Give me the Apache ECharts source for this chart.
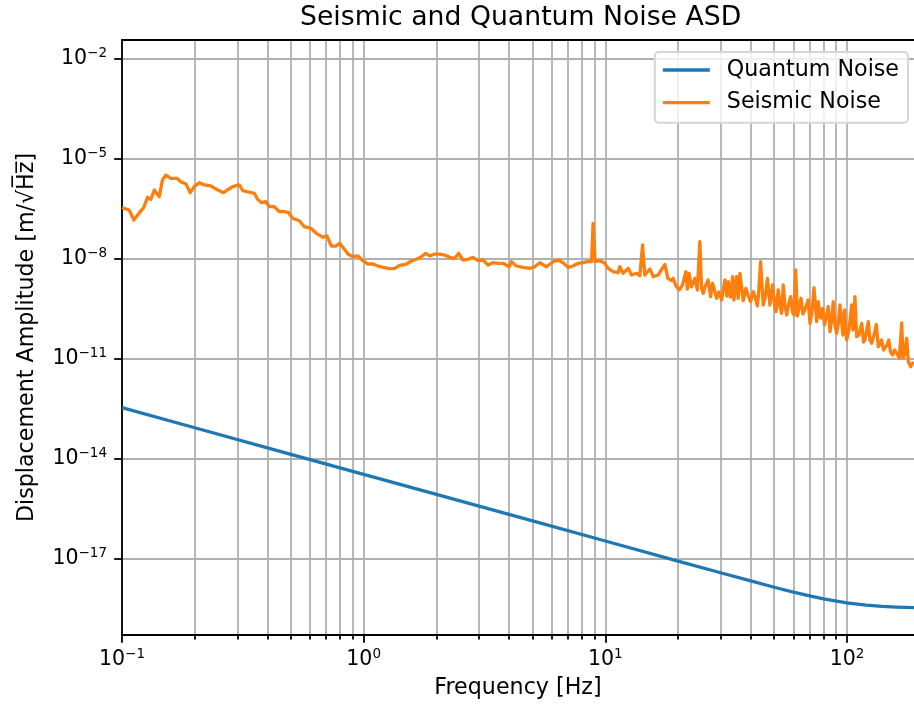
<!DOCTYPE html>
<html>
<head>
<meta charset="utf-8">
<title>Seismic and Quantum Noise ASD</title>
<script src="https://cdn.jsdelivr.net/npm/echarts@6/dist/echarts.min.js"></script>
<style>
    html, body { margin: 0; padding: 0; background: #fff; }
    #chart { width: 914px; height: 704px; }
</style>
</head>
<body>
<div id="chart"></div>
<script>
// frequency [Hz] and amplitude [m/sqrt(Hz)]
var quantumFreq = [0.1, 0.2, 0.5, 1, 2, 5, 10, 20, 30, 40, 50, 60, 70, 80, 100, 120, 140, 160, 189.4];
var quantumAmp = [3.4e-13, 8.5e-14, 1.35e-14, 3.4e-15, 8.5e-16, 1.36e-16, 3.4e-17, 8.5e-18, 3.79e-18, 2.15e-18,
    1.39e-18, 1.0e-18, 7.67e-19, 6.23e-19, 4.7e-19, 4.02e-19, 3.69e-19, 3.52e-19, 3.39e-19];

var seismicFreq = [
    0.1, 0.107, 0.112, 0.118, 0.123, 0.1275, 0.1316, 0.136, 0.1426, 0.147,
    0.152, 0.159, 0.169, 0.175, 0.184, 0.1915, 0.199, 0.209, 0.219, 0.233,
    0.249, 0.263, 0.273, 0.287, 0.306, 0.316, 0.331, 0.353, 0.364, 0.378,
    0.394, 0.407, 0.427, 0.448, 0.469, 0.488, 0.508, 0.542, 0.568, 0.605,
    0.637, 0.679, 0.705, 0.735, 0.766, 0.796, 0.826, 0.861, 0.903, 0.947,
    0.993, 1.042, 1.093, 1.146, 1.202, 1.281, 1.344, 1.409, 1.503, 1.576,
    1.653, 1.734, 1.806, 1.876, 1.968, 2.064, 2.165, 2.271, 2.381, 2.474,
    2.577, 2.703, 2.835, 2.973, 3.119, 3.271, 3.43, 3.598, 3.774, 3.997,
    4.089, 4.289, 4.566, 4.868, 5.106, 5.355, 5.707, 6.081, 6.377, 6.688,
    7.015, 7.357, 7.716, 8.093, 8.408, 8.768, 8.903, 9.075, 9.489, 9.952,
    10.27, 10.77, 11.3, 11.48, 11.85, 12.43, 12.84, 13.47,
    13.9, 14.26, 14.57, 15.29, 15.78, 16.54, 17.64, 18.15, 18.8, 19.09,
    19.59, 20.21, 20.87, 21.54, 21.85, 22.23, 22.7, 23.1, 23.48, 24.04,
    24.62, 25.02, 25.41, 25.95, 26.65, 27.27, 27.79, 28.28, 28.87, 29.51,
    30.28, 31.25, 31.85, 32.25, 32.93, 33.63, 34.05, 34.94, 35.47, 36.06,
    37.21, 38.18, 39.09, 39.93, 40.93, 41.8, 42.53, 43.01, 43.92, 45.03,
    45.98, 46.87, 47.98, 49.23, 50.08, 50.82, 51.95, 52.8, 53.66, 54.49,
    55.38, 56.29, 57.27, 58.48, 59.49, 60.35, 61.33, 62.39, 63.59, 64.51,
    65.75, 67.66, 69.16, 70.29, 71.64, 73.03, 74.93, 76.08, 77.7, 79.34,
    80.71, 82.27, 83.69, 85.06, 86.45, 87.78, 89.21, 90.67, 92.24, 93.55,
    96.26, 97.64, 99.72, 101.9, 104.6, 105.9, 107.9, 109.7, 112.1, 115.1,
    117.1, 118.7, 122.5, 124.5, 126.6, 129.4, 132.2, 134.8, 137.0, 139.2,
    141.6, 143.6, 146.4, 148.9, 151.4, 154.6, 157.3, 160.6, 164.7, 168.5,
    170.6, 173.0, 176.7, 179.4, 183.6, 188.2
];
var seismicAmp = [
    3.39e-7, 2.89e-7, 1.45e-7, 2.4e-7, 3.39e-7, 6.95e-7, 6.05e-7, 1.15e-6, 7.24e-7, 2.3e-6,
    3.24e-6, 2.58e-6, 2.58e-6, 2.04e-6, 1.74e-6, 9.55e-7, 1.45e-6, 1.91e-6, 1.63e-6, 1.52e-6,
    1.15e-6, 9.55e-7, 1.15e-6, 1.45e-6, 1.63e-6, 1.1e-6, 1.02e-6, 9.16e-7, 6.05e-7, 4.79e-7,
    5.13e-7, 3.63e-7, 3.63e-7, 2.57e-7, 2.57e-7, 2.47e-7, 1.63e-7, 1.38e-7, 9.12e-8, 8.17e-8,
    5.78e-8, 4.39e-8, 4.8e-8, 2.4e-8, 2.4e-8, 2.9e-8, 2.05e-8, 1.38e-8, 1.15e-8, 1.21e-8,
    8.71e-9, 6.93e-9, 6.93e-9, 6.04e-9, 5.52e-9, 5.01e-9, 5.15e-9, 6.34e-9, 6.93e-9, 8.53e-9,
    9.59e-9, 1.15e-8, 1.45e-8, 1.21e-8, 1.38e-8, 1.38e-8, 1.29e-8, 1.1e-8, 1.03e-8, 1.45e-8,
    9.14e-9, 9.59e-9, 1.1e-8, 8.71e-9, 9.14e-9, 6.47e-9, 7.59e-9, 7.28e-9, 7.28e-9, 5.75e-9,
    8.13e-9, 6.04e-9, 5.52e-9, 5.15e-9, 5.75e-9, 7.59e-9, 5.75e-9, 8.13e-9, 9.14e-9, 7.59e-9,
    5.52e-9, 6.04e-9, 7.28e-9, 7.59e-9, 8.13e-9, 8.13e-9, 1.15e-7, 8.13e-9, 8.71e-9, 7.28e-9,
    5.15e-9, 4.07e-9, 3.8e-9, 5.75e-9, 3.65e-9, 5.15e-9, 3.24e-9, 3.65e-9,
    3.09e-9, 2.58e-8, 3.24e-9, 4.91e-9, 2.88e-9, 3.24e-9, 6.7e-9, 2.58e-9, 2.19e-9, 2.58e-9,
    1.52e-9, 1.15e-9, 1.63e-9, 4.07e-9, 1.23e-9, 3.65e-9, 1.42e-9, 1.83e-9, 2.58e-9, 1.15e-9,
    3.24e-8, 1.29e-9, 9.16e-10, 1.52e-9, 2.3e-9, 7.24e-10, 1.83e-9, 1.15e-9, 6.49e-10, 1.0e-9,
    5.77e-10, 2.3e-9, 7.6e-10, 2.04e-9, 7.1e-10, 2.88e-9, 5.77e-10, 2.88e-9, 6.49e-10, 3.65e-9,
    5.5e-10, 1.29e-9, 7.6e-10, 5.13e-10, 1.02e-9, 6.62e-10, 3.81e-10, 7.6e-10, 8.13e-9, 4.08e-10,
    7.6e-10, 2.58e-9, 4.08e-10, 1.63e-9, 4.69e-10, 2.57e-10, 1.15e-9, 3.81e-10, 2.3e-10, 1.63e-9,
    4.08e-10, 2.05e-10, 4.08e-10, 7.24e-10, 2.52e-10, 2.05e-10, 4.58e-9, 1.91e-10, 3.81e-10, 6.49e-10,
    2.19e-10, 3.63e-10, 5.77e-10, 1.15e-10, 2.52e-10, 1.35e-9, 1.29e-10, 5.13e-10, 1.66e-10, 3.25e-10,
    1.03e-10, 1.91e-10, 3.63e-10, 6.46e-11, 1.45e-10, 5.13e-10, 1.03e-10, 5.78e-11, 1.26e-10, 4.08e-10,
    5.14e-11, 2.89e-10, 3.64e-11, 7.26e-11, 4.08e-10, 7.26e-11, 7.24e-10, 4.57e-11, 5.14e-11, 1.15e-10,
    3.17e-11, 3.64e-11, 1.29e-10, 3.64e-11, 2.9e-11, 5.14e-11, 1.06e-10, 2.29e-11, 2.76e-11, 3.64e-11,
    1.82e-11, 1.62e-11, 2.58e-11, 3.64e-11, 1.59e-11, 1.29e-11, 1.82e-11, 1.45e-11, 1.03e-11, 1.18e-10,
    1.05e-11, 1.29e-11, 4.09e-11, 8.13e-12, 5.75e-12, 8.13e-12
];

var xMajorTicks = [0.1, 1, 10, 100];
var xMinorTicks = [0.2, 0.3, 0.4, 0.5, 0.6, 0.7, 0.8, 0.9, 2, 3, 4, 5, 6, 7, 8, 9,
    20, 30, 40, 50, 60, 70, 80, 90];
var yTicks = [1e-17, 1e-14, 1e-11, 1e-8, 1e-5, 1e-2];

var FONT = 'DejaVu Sans';
var X_MIN = 0.1, X_MAX = 189.4;
var Y_MIN = 5.14e-20, Y_MAX = 3.64e-2;

function pairs(xs, ys) {
    return xs.map(function (x, i) { return [x, ys[i]]; });
}

// 10^n with a raised exponent
function powLabel(value) {
    var e = Math.round(Math.log10(value));
    return '{b|10}{s|' + (e < 0 ? '\u2212' + (-e) : e) + '}';
}

var labelRich = {
    b: { fontFamily: FONT, fontSize: 20.5, color: '#000' },
    s: { fontFamily: FONT, fontSize: 13.5, color: '#000', padding: [0, 0, 10, 0] }
};
var spine = { color: '#000', width: 1.8 };
var gridLine = { color: '#b0b0b0', width: 1.8 };

var chart = echarts.init(document.getElementById('chart'));
chart.setOption({
    animation: false,
    backgroundColor: '#fff',
    textStyle: { fontFamily: FONT },
    title: {
        text: 'Seismic and Quantum Noise ASD',
        left: 300,
        top: 5,
        padding: 0,
        textStyle: { fontFamily: FONT, fontSize: 26.7, fontWeight: 'normal', color: '#000' }
    },
    legend: {
        data: ['Quantum Noise', 'Seismic Noise'],
        orient: 'vertical',
        right: 6,
        top: 52,
        padding: [6, 9, 8, 8],
        itemGap: 8.7,
        itemWidth: 47,
        itemHeight: 3.3,
        icon: 'rect',
        selectedMode: false,
        backgroundColor: 'rgba(255,255,255,0.8)',
        borderColor: '#d6d6d6',
        borderWidth: 2,
        borderRadius: 4,
        textStyle: { fontFamily: FONT, fontSize: 22.2, color: '#000', lineHeight: 24, padding: [0, 0, 0, 12] }
    },
    grid: { left: 122, right: 0, top: 40, bottom: 69 },
    xAxis: [
        {
            type: 'log',
            logBase: 10,
            min: X_MIN,
            max: X_MAX,
            position: 'bottom',
            name: 'Frequency [Hz]',
            nameLocation: 'middle',
            nameGap: 42,
            nameTextStyle: { fontFamily: FONT, fontSize: 22.2, color: '#000' },
            axisLine: { show: true, onZero: false, lineStyle: spine },
            axisTick: { show: true, customValues: xMajorTicks, length: 7.8, lineStyle: spine },
            axisLabel: { customValues: xMajorTicks, margin: 12.5, formatter: powLabel, rich: labelRich },
            splitLine: { show: true, lineStyle: gridLine }
        },
        {
            // minor ticks and grid at 2..9 of each decade
            type: 'log',
            logBase: 10,
            min: X_MIN,
            max: X_MAX,
            position: 'bottom',
            axisLine: { show: false },
            axisTick: { show: true, customValues: xMinorTicks, length: 4.4, lineStyle: spine },
            axisLabel: { show: false },
            splitLine: { show: true, lineStyle: gridLine }
        },
        {
            // top spine
            type: 'log',
            logBase: 10,
            min: X_MIN,
            max: X_MAX,
            position: 'top',
            axisLine: { show: true, onZero: false, lineStyle: spine },
            axisTick: { show: false },
            axisLabel: { show: false },
            splitLine: { show: false }
        }
    ],
    yAxis: {
        type: 'log',
        logBase: 10,
        min: Y_MIN,
        max: Y_MAX,
        position: 'left',
        name: 'Displacement Amplitude [m/\u221AH\u0305z\u0305]',
        nameLocation: 'middle',
        nameRotate: 90,
        nameGap: 84,
        nameTextStyle: { fontFamily: FONT, fontSize: 22.2, color: '#000' },
        axisLine: { show: true, onZero: false, lineStyle: spine },
        axisTick: { show: true, customValues: yTicks, length: 7.8, lineStyle: spine },
        axisLabel: { customValues: yTicks, margin: 15, formatter: powLabel, rich: labelRich },
        splitLine: { show: true, lineStyle: gridLine }
    },
    series: [
        {
            name: 'Quantum Noise',
            type: 'line',
            data: pairs(quantumFreq, quantumAmp),
            symbol: 'none',
            color: '#1f77b4',
            lineStyle: { color: '#1f77b4', width: 3.3, join: 'round' },
            z: 3
        },
        {
            name: 'Seismic Noise',
            type: 'line',
            data: pairs(seismicFreq, seismicAmp),
            symbol: 'none',
            color: '#ff7f0e',
            lineStyle: { color: '#ff7f0e', width: 3.3, join: 'round' },
            z: 3
        }
    ]
});
</script>
</body>
</html>
